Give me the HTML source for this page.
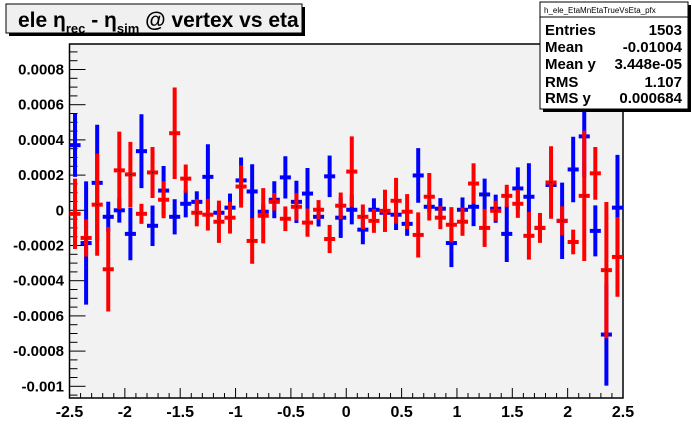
<!DOCTYPE html>
<html><head><meta charset="utf-8"><style>
body{margin:0;background:#fff;}
svg{display:block;font-family:"Liberation Sans",Arial,sans-serif;font-weight:bold;}
</style></head><body>
<svg id="c" width="692" height="444" viewBox="0 0 692 444" xmlns="http://www.w3.org/2000/svg">
<rect x="0" y="0" width="692" height="444" fill="#ffffff"/>
<rect x="69.5" y="44" width="553.5" height="354" fill="#f2f2f2" stroke="#000" stroke-width="1.5"/>
<g id="axes"></g>
<g id="blue"></g>
<g id="red"></g>
<g>
<rect x="9" y="7" width="296" height="29" fill="#000"/>
<rect x="6" y="4" width="296" height="29" fill="#f0f0f0" stroke="#000" stroke-width="1"/>
<text x="18" y="27" font-size="21">ele η<tspan font-size="13" dy="6">rec</tspan><tspan dy="-6"> - η</tspan><tspan font-size="13" dy="6">sim</tspan><tspan dy="-6"> @ vertex vs eta</tspan></text>
</g>
<g>
<rect x="543" y="5" width="148" height="107" fill="#000"/>
<rect x="540" y="2" width="148" height="107" fill="#fff" stroke="#000" stroke-width="1"/>
<line x1="540" y1="17" x2="688" y2="17" stroke="#000" stroke-width="1"/>
<text x="544" y="13" font-size="8" font-weight="normal">h_ele_EtaMnEtaTrueVsEta_pfx</text>
<text x="545" y="35" font-size="15">Entries</text><text x="682" y="35" font-size="15" text-anchor="end">1503</text>
<text x="545" y="52" font-size="15">Mean</text><text x="682" y="52" font-size="15" text-anchor="end">-0.01004</text>
<text x="545" y="69" font-size="15">Mean y</text><text x="682" y="69" font-size="15" text-anchor="end">3.448e-05</text>
<text x="545" y="87" font-size="15">RMS</text><text x="682" y="87" font-size="15" text-anchor="end">1.107</text>
<text x="545" y="103" font-size="15">RMS y</text><text x="682" y="103" font-size="15" text-anchor="end">0.000684</text>
</g>
</svg>
<script>
const binCenters=[-2.45,-2.35,-2.25,-2.15,-2.05,-1.95,-1.85,-1.75,-1.65,-1.55,-1.45,-1.35,-1.25,-1.15,-1.05,-0.95,-0.85,-0.75,-0.65,-0.55,-0.45,-0.35,-0.25,-0.15,-0.05,0.05,0.15,0.25,0.35,0.45,0.55,0.65,0.75,0.85,0.95,1.05,1.15,1.25,1.35,1.45,1.55,1.65,1.75,1.85,1.95,2.05,2.15,2.25,2.35,2.45];
// values in units of 1e-4
const blueMean=[3.7,-1.86,1.56,-0.37,0,-1.34,3.36,-0.88,1.12,-0.37,0.37,0.48,1.9,-0.14,0.15,1.7,1.07,-0.08,0.6,1.87,0.48,0.95,-0.37,1.93,-0.42,0.03,-1.1,0.03,-0.14,-0.25,-0.77,1.98,0.2,0.09,-1.86,0.03,0.2,0.9,0.09,-1.34,1.24,0.77,-1.0,1.44,-0.6,2.32,4.2,-1.17,-7.06,0.15];
const blueErr=[1.8,3.5,3.3,0.86,0.7,1.5,2.1,1.15,1.4,1.0,0.77,0.6,1.85,0.4,0.8,1.3,1.55,0.4,1.05,1.2,1.2,1.45,0.55,1.18,1.15,0.83,0.83,0.65,0.3,0.87,0.68,1.55,0.3,0.6,1.37,0.7,1.1,0.9,0.8,1.6,1.2,1.9,0.5,0.5,2.17,1.86,2.3,1.45,2.9,3.0];
const redMean=[-0.2,-1.57,0.32,-3.35,2.27,2.04,-0.2,2.15,0.6,4.38,1.8,-0.14,-0.25,-0.65,-0.42,1.35,-1.74,-0.31,0.48,-0.48,0.2,-0.7,0.03,-1.63,0.26,2.2,-0.37,-0.6,-0.03,0.54,-0.08,-1.4,0.77,-0.42,-0.82,-0.65,1.52,-1.0,-0.03,0.82,0.37,-1.45,-1.0,1.58,-0.6,-1.8,0.82,2.1,-3.4,-2.65];
const redErr=[2.0,1.06,2.9,2.4,2.2,1.85,0.57,1.45,1.05,2.6,0.8,0.77,0.9,1.2,0.9,1.2,1.3,1.57,0.5,0.7,0.77,0.8,0.55,0.8,0.75,2.0,0.7,0.68,1.2,1.3,1.0,1.28,1.35,0.65,1.0,0.8,1.15,1.08,0.57,0.63,0.8,1.35,0.85,2.06,0.83,0.7,3.7,1.5,3.87,2.26];
const xTicks=[-2.5,-2,-1.5,-1,-0.5,0,0.5,1,1.5,2,2.5];
const xTickLabels=["-2.5","-2","-1.5","-1","-0.5","0","0.5","1","1.5","2","2.5"];
const yTicks=[0.0008,0.0006,0.0004,0.0002,0,-0.0002,-0.0004,-0.0006,-0.0008,-0.001];
const yTickLabels=["0.0008","0.0006","0.0004","0.0002","0","-0.0002","-0.0004","-0.0006","-0.0008","-0.001"];
const X0=69.5,X1=623,Y0=44,Y1=398;
const xs=v=>X0+(v+2.5)/5*(X1-X0);
const ys=v=>210.3-v*176000;
const NS="http://www.w3.org/2000/svg";
function mk(tag,attrs,parent){const e=document.createElementNS(NS,tag);for(const k in attrs)e.setAttribute(k,attrs[k]);parent.appendChild(e);return e;}
const ax=document.getElementById('axes');
for(let i=0;i<=50;i++){const v=-2.5+i*0.1;const major=i%5===0;
 const t=mk('line',{x1:xs(v),x2:xs(v),y1:Y1,y2:Y1-(major?10:5),stroke:'#000','stroke-width':1},ax);
 
 }
xTicks.forEach((v,i)=>{const t=mk('text',{x:xs(v),y:417,'font-size':16,'text-anchor':'middle'},ax);t.textContent=xTickLabels[i];
 
 });
for(let i=0;;i++){const v=-0.001+i*0.00005;const y=ys(v);if(y<Y0)break;const major=i%4===0;
 const t=mk('line',{x1:X0,x2:X0+(major?16:8),y1:y,y2:y,stroke:'#000','stroke-width':1},ax);
 
 }
{const y=ys(-0.00105);const t=mk('line',{x1:X0,x2:X0+8,y1:y,y2:y,stroke:'#000','stroke-width':1},ax);
 
 }
yTicks.forEach((v,i)=>{const t=mk('text',{x:64,y:ys(v)+5,'font-size':15,'text-anchor':'end'},ax);t.textContent=yTickLabels[i];
 
 });
function drawSeries(g,means,errs,color,name){
 const hw=(X1-X0)/100;
 binCenters.forEach((c,i)=>{const m=means[i]*1e-4,e=errs[i]*1e-4;const x=xs(c);
  const grp=mk('g',{},g);
  
  
  mk('line',{x1:x,x2:x,y1:ys(m+e),y2:ys(m-e),stroke:color,'stroke-width':4},grp);
  mk('line',{x1:x-hw,x2:x+hw,y1:ys(m),y2:ys(m),stroke:color,'stroke-width':4},grp);
  mk('rect',{x:x-0.5,y:ys(m)-0.5,width:1,height:1,fill:'#000'},grp);
 });
}
drawSeries(document.getElementById('blue'),blueMean,blueErr,'#0000ff','blue');
drawSeries(document.getElementById('red'),redMean,redErr,'#ff0000','red');
</script>
</body></html>
